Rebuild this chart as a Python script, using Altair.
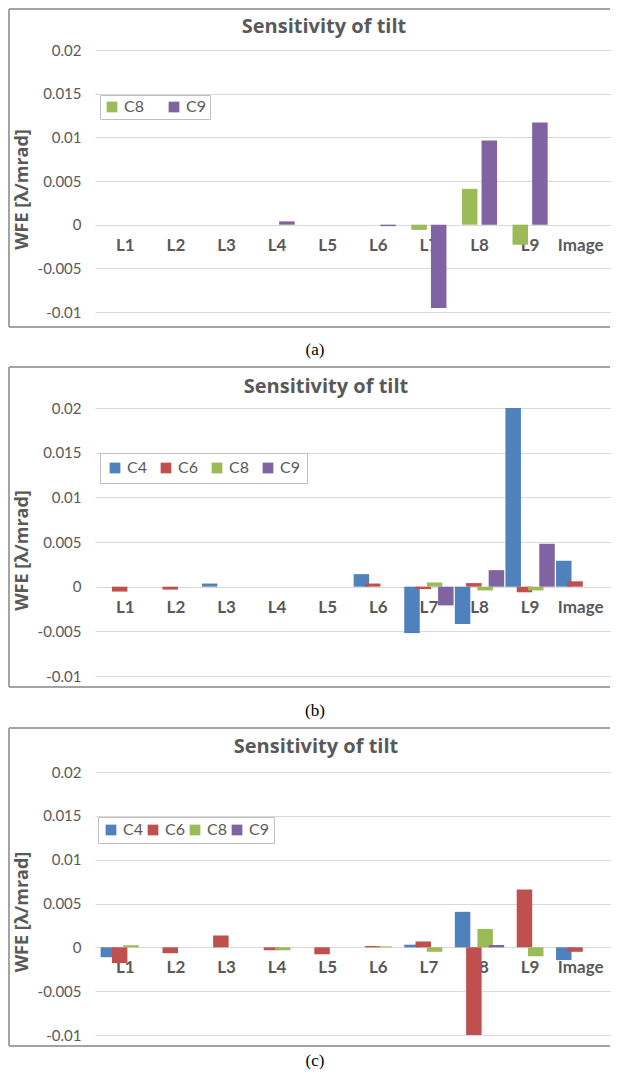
import altair as alt
import pandas as pd

categories = ["L1", "L2", "L3", "L4", "L5", "L6", "L7", "L8", "L9", "Image"]

# Panel (a)
series_a = ["C8", "C9"]
a_C8 = [0, 0, 0, 0, 0, 0, -0.0006, 0.0041, -0.0023, 0]
a_C9 = [0, 0, 0, 0.00038, 0, -0.00017, -0.00955, 0.00965, 0.0117, 0]

# Panel (b)
series_b = ["C4", "C6", "C8", "C9"]
b_C4 = [0, 0, 0.00035, 0, 0, 0.0014, -0.0052, -0.00418, 0.0200, 0.0029]
b_C6 = [-0.00055, -0.00033, 0, 0, 0, 0.00035, -0.00027, 0.0004, -0.00063, 0.0006]
b_C8 = [0, 0, 0, 0, 0, 0, 0.00047, -0.00042, -0.00042, 0]
b_C9 = [0, 0, 0, 0, 0, 0, -0.0021, 0.00185, 0.0048, 0]

# Panel (c)
series_c = ["C4", "C6", "C8", "C9"]
c_C4 = [-0.00113, 0, 0, 0, 0, 0, 0.0003, 0.00405, 0, -0.00145]
c_C6 = [-0.0018, -0.00067, 0.00135, -0.00033, -0.00079, 0.00015, 0.00067, -0.0100, 0.0066, -0.00051]
c_C8 = [0.00024, 0, 0, -0.00033, 0, 0.00011, -0.00051, 0.0021, -0.00102, 0]
c_C9 = [0, 0, 0, 0, 0, 0, 0, 0.00027, 0, 0]

y_ticks = [-0.01, -0.005, 0, 0.005, 0.01, 0.015, 0.02]

colors = {"C4": "#4F81BD", "C6": "#C0504D", "C8": "#9BBB59", "C9": "#8064A2"}
GRAY = "#595959"
BORDER = "#a3a3a3"
FONT = "Lato"
TFONT = "Open Sans"
W = 516


def long_df(series_names, values):
    rows = []
    for si, (s, vals) in enumerate(zip(series_names, values)):
        for ci, v in enumerate(vals):
            rows.append({"cat": categories[ci], "ci": ci, "si": si, "series": s, "v": v})
    return pd.DataFrame(rows)


def panel(series, values, h, step_px, bar_px, leg_x, leg_y, col_pad, leg_pad,
          b_top, b_bot, title_x, title_y, cap_y, caption):
    n = len(series)
    unit = W / 10.0
    df = long_df(series, values)
    one = pd.DataFrame({"k": [0]})

    yaxis = alt.Axis(
        values=y_ticks, labelExpr="'' + datum.value", grid=True,
        gridColor="#d9d9d9", gridWidth=1, domain=False, ticks=False,
        labelPadding=14, labelFontSize=15, labelColor=GRAY, labelFont=FONT,
        title="WFE [λ/mrad]", titleFont=TFONT, titleFontSize=18,
        titleFontWeight="bold", titleColor=GRAY, titleX=-73, titleY=h / 2 + 8,
        titleAngle=270, titleBaseline="middle", titleAlign="center",
    )
    yenc = alt.Y("v:Q", scale=alt.Scale(domain=[-0.01, 0.02], nice=False),
                 axis=yaxis, stack=None)
    xscale = alt.Scale(domain=[0, 10], nice=False, zero=False)

    bars = alt.Chart(df).transform_calculate(
        xc=f"datum.ci + 0.5 + (datum.si - {(n - 1) / 2}) * {step_px / unit}"
    ).mark_bar(size=bar_px, orient="vertical").encode(
        x=alt.X("xc:Q", scale=xscale, axis=None),
        y=yenc,
        color=alt.Color(
            "series:N",
            scale=alt.Scale(domain=series, range=[colors[s] for s in series]),
            legend=alt.Legend(
                orient="none", legendX=leg_x, legendY=leg_y, direction="horizontal",
                title=None, symbolType="square", symbolSize=115, symbolStrokeWidth=0,
                labelFontSize=16, labelFont=FONT, labelColor=GRAY,
                strokeColor="#bfbfbf", fillColor="white", padding=leg_pad,
                columnPadding=col_pad, labelOffset=4,
            ),
        ),
    )

    lab_df = pd.DataFrame({"cat": categories, "ci": list(range(10)), "v": [0] * 10})
    labels = alt.Chart(lab_df).transform_calculate(xc="datum.ci + 0.5").mark_text(
        dy=21, fontSize=17, fontWeight="bold", font=FONT, color=GRAY, baseline="middle"
    ).encode(x=alt.X("xc:Q", scale=xscale, axis=None), y=yenc, text="cat:N")

    left = alt.Chart(one).mark_rule(color=BORDER, strokeWidth=2).encode(
        x=alt.value(-86), y=alt.value(b_top), y2=alt.value(h + b_bot))
    top = alt.Chart(one).mark_rule(color=BORDER, strokeWidth=2).encode(
        x=alt.value(-86), x2=alt.value(W - 1), y=alt.value(b_top))
    bottom = alt.Chart(one).mark_rule(color=BORDER, strokeWidth=2).encode(
        x=alt.value(-86), x2=alt.value(W - 1), y=alt.value(h + b_bot))

    title = alt.Chart(one).mark_text(
        text="Sensitivity of tilt", fontSize=20, fontWeight="bold", font=TFONT,
        color=GRAY, baseline="middle", align="center"
    ).encode(x=alt.value(title_x), y=alt.value(title_y))

    cap = alt.Chart(one).mark_text(
        text=caption, fontSize=17, font="Liberation Serif", color="black",
        baseline="middle", align="center"
    ).encode(x=alt.value(220), y=alt.value(h + cap_y))

    return alt.layer(left, top, bottom, labels, bars, title, cap).properties(
        width=W, height=h
    )


pa = panel(series_a, [a_C8, a_C9], 262, 20, 15.5, 5, 45, 22, 4,
           -41, 15, 229, -23, 38, "(a)")
pb = panel(series_b, [b_C4, b_C6, b_C8, b_C9], 268, 11.5, 15.5, 5, 45, 11, 7,
           -41, 11, 231, -21, 35, "(b)")
pc = panel(series_c, [c_C4, c_C6, c_C8, c_C9], 263, 11.5, 15.5, 3, 45, 2, 5,
           -44, 11, 221, -25, 26, "(c)")

chart = alt.vconcat(pa, pb, pc, spacing=96, bounds="flush").resolve_scale(
    color="independent", x="independent", y="independent"
).resolve_legend(color="independent").configure_view(stroke=None).properties(
    background="white",
    padding={"left": 0, "top": 0, "right": 0, "bottom": 0},
    autosize=alt.AutoSizeParams(type="pad"),
)

chart.save("out.html", embed_options={"renderer": "svg", "actions": False})
